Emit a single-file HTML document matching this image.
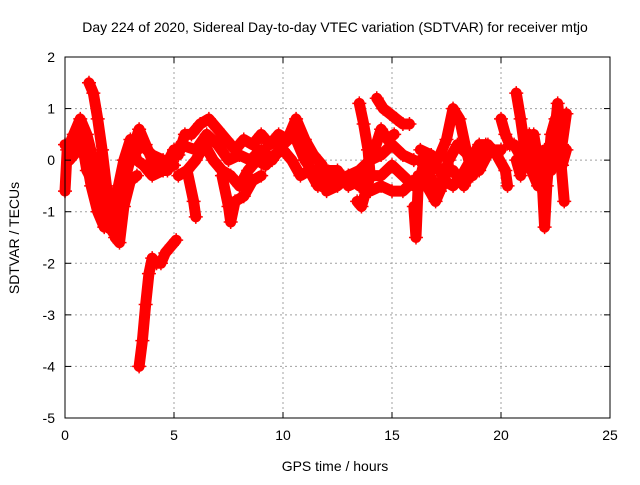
<!DOCTYPE html>
<html><head><meta charset="utf-8"><style>
body{margin:0;background:#fff}
svg text{font-family:"Liberation Sans",sans-serif;font-size:14px;fill:#000}
</style></head><body>
<svg id="chart" width="640" height="480">
<rect width="640" height="480" fill="#fff"/>
<text x="335" y="32" text-anchor="middle">Day 224 of 2020, Sidereal Day-to-day VTEC variation (SDTVAR) for receiver mtjo</text>
<g id="grid"></g>
<g id="series"></g>
<rect x="65" y="57" width="545" height="361" fill="none" stroke="#000" stroke-width="1"/>
<g id="ticks"></g>
<text x="335" y="471" text-anchor="middle">GPS time / hours</text>
<text transform="translate(19,238) rotate(-90)" text-anchor="middle">SDTVAR / TECUs</text>
</svg>
<script>
const xTicks=[0,5,10,15,20,25];
const yTicks=[2,1,0,-1,-2,-3,-4,-5];
const track1=[[0,-0.6],[0.1,0.2],[0.4,0.5],[0.7,0.8],[1.0,0.5],[1.3,0],[1.6,-0.5],[1.9,-1.2],[2.2,-1.4],[2.5,-0.9],[2.8,-0.3],[3.1,0.2],[3.4,0.6],[3.7,0.3],[4.0,0],[4.3,-0.2],[4.7,-0.2],[5.0,0.1]];
const track2=[[0,0.3],[0.3,0.2],[0.6,0.6],[0.9,0.2],[1.2,-0.5],[1.5,-1.0],[1.8,-1.3],[2.1,-1.2],[2.4,-0.6],[2.7,0],[3.0,0.4],[3.3,0],[3.6,-0.1],[4.0,-0.3],[4.5,-0.2],[5.0,0.2]];
const track3=[[1.1,1.5],[1.3,1.3],[1.5,0.8],[1.7,0.2],[1.9,-0.5],[2.1,-1.0],[2.3,-1.5],[2.5,-1.6],[2.7,-0.9],[3.0,-0.4],[3.3,-0.3]];
const track4=[[3.4,-4.0],[3.55,-3.5],[3.7,-2.8],[3.85,-2.2],[4.0,-1.9],[4.2,-2.0],[4.4,-2.0],[4.6,-1.8],[4.9,-1.65],[5.1,-1.55]];
const track5=[[5.2,0.1],[5.5,0.5],[5.8,0.5],[6.2,0.7],[6.6,0.8],[7.0,0.6],[7.4,0.4],[7.8,0.2],[8.2,0.4],[8.6,0.3],[9.0,0.5],[9.4,0.3],[9.8,0.5],[10.2,0.4],[10.6,0.8],[11,0.4],[11.4,0.1],[11.8,-0.1]];
const track6=[[5.2,-0.3],[5.6,-0.2],[6.0,0],[6.4,0.3],[6.8,0],[7.2,-0.2],[7.6,-0.3],[8.0,-0.5],[8.4,-0.2],[8.8,0],[9.2,-0.1],[9.6,0.1],[10.0,0.2],[10.4,0],[10.8,-0.3],[11.2,-0.2],[11.6,-0.5],[12,-0.4]];
const track7=[[5.6,-0.2],[5.9,-0.8],[6.0,-1.1]];
const track8=[[7.2,-0.3],[7.5,-0.9],[7.6,-1.2],[7.8,-0.8],[8.2,-0.7],[8.6,-0.4],[9.0,-0.3]];
const track9=[[11.5,-0.2],[12,-0.3],[12.5,-0.4],[13,-0.3],[13.5,-0.5],[14,-0.6],[14.5,-0.5],[15,-0.6],[15.5,-0.6],[16,-0.4]];
const track10=[[12,-0.6],[12.5,-0.5],[13,-0.3],[13.5,-0.2],[14,0],[14.5,0.1],[15,0.3],[15.5,0.1],[16,0]];
const track11=[[13.5,1.1],[13.7,0.7],[13.9,0.2],[14,-0.3],[13.8,-0.6],[13.6,-0.9],[13.4,-0.8]];
const track12=[[14.3,1.2],[14.6,1.0],[14.9,0.9],[15.2,0.8],[15.5,0.7],[15.8,0.7]];
const track13=[[14.2,0.2],[14.5,0.6],[14.8,0.4],[15.1,0.5]];
const track14=[[16.0,-0.9],[16.1,-1.5],[16.2,-0.5],[16.5,0],[16.8,-0.2],[17.2,0.1],[17.5,0.4],[17.8,1.0],[18.1,0.8],[18.4,0.2],[18.7,-0.3],[19,0],[19.3,0.3]];
const track15=[[16.2,-0.3],[16.6,-0.5],[17,-0.8],[17.4,-0.4],[17.8,-0.5],[18.2,-0.3],[18.6,0],[19,0.3],[19.4,0.3],[19.8,0.1],[20.2,-0.2],[20.3,-0.5]];
const track16=[[16.3,0.2],[16.8,0.1],[17.3,-0.3],[17.8,-0.2],[18.3,-0.5],[18.8,-0.1],[19.3,0.2]];
const track17=[[20.0,0.8],[20.2,0.5],[20.4,0.3]];
const track18=[[20.7,1.3],[20.9,0.8],[21.1,0.2],[21.3,0.1],[21.5,0.5],[21.7,0],[21.9,-0.5],[22.0,-1.3],[22.1,-0.5],[22.3,0.5],[22.5,0.8],[22.7,0.2],[22.9,-0.8]];
const track19=[[20.7,0],[20.9,-0.3],[21.1,0.4],[21.4,-0.2],[21.7,-0.5],[22,0.2],[22.3,-0.2],[22.6,1.1],[22.8,0.3],[23,0.9]];
const track20=[[0.2,0],[0.8,0.3],[1.0,-0.2],[1.5,-0.6],[2.0,-0.9],[2.6,-0.4],[3.0,0],[3.5,0.3],[4.0,0.1],[4.5,0],[5.0,-0.1]];
const track21=[[5.3,0.3],[6,0.2],[6.5,0.5],[7,0.3],[7.5,0],[8,0.1],[8.5,0],[9,0.2],[9.5,0],[10,0.3],[10.5,0.5],[11,0],[11.5,-0.3],[12,-0.5]];
const track22=[[12,-0.2],[12.5,-0.2],[13,-0.5],[13.5,-0.4],[14,-0.3],[14.5,-0.3],[15,-0.1],[15.5,-0.3],[16,-0.5]];
const track23=[[16.3,0],[16.7,-0.3],[17.2,-0.6],[17.6,0],[18,0.3],[18.5,0.1],[19,-0.2],[19.5,0.2],[20,0.2]];
const track24=[[20.6,0.3],[21,0],[21.3,0.5],[21.6,0.2],[21.9,0.1],[22.2,0],[22.5,0.3],[22.8,-0.1],[23,0.2]];
const tracks=[track1,track2,track3,track4,track5,track6,track7,track8,track9,track10,track11,track12,track13,track14,track15,track16,track17,track18,track19,track20,track21,track22,track23,track24];
const X0=65,X1=610,Y0=57,Y1=418;
function sx(t){return X0+(t-0)/(25-0)*(X1-X0);}
function sy(v){return Y1-(v-(-5))/(2-(-5))*(Y1-Y0);}
const NS="http://www.w3.org/2000/svg";
const grid=document.getElementById('grid'),ticks=document.getElementById('ticks'),ser=document.getElementById('series');
function mk(tag,attrs,parent){const e=document.createElementNS(NS,tag);for(const k in attrs)e.setAttribute(k,attrs[k]);parent.appendChild(e);return e;}
xTicks.forEach(t=>{
  const x=sx(t);
  if(t>0&&t<25){const g=mk('line',{x1:x,y1:Y0,x2:x,y2:Y1,stroke:'#a0a0a0','stroke-dasharray':'2,3'},grid);
  
  }
  mk('line',{x1:x,y1:Y1,x2:x,y2:Y1-6,stroke:'#000'},ticks);
  mk('line',{x1:x,y1:Y0,x2:x,y2:Y0+6,stroke:'#000'},ticks);
  const l=mk('text',{x:x,y:Y1+22,'text-anchor':'middle'},ticks);l.textContent=t;
  
  
});
yTicks.forEach(v=>{
  const y=sy(v);
  if(v<2&&v>-5){const g=mk('line',{x1:X0,y1:y,x2:X1,y2:y,stroke:'#a0a0a0','stroke-dasharray':'2,3'},grid);
  
  }
  mk('line',{x1:X0,y1:y,x2:X0+6,y2:y,stroke:'#000'},ticks);
  mk('line',{x1:X1,y1:y,x2:X1-6,y2:y,stroke:'#000'},ticks);
  const l=mk('text',{x:X0-10,y:y+5,'text-anchor':'end'},ticks);l.textContent=v;
  
  
});
tracks.forEach((tr,i)=>{
  const g=mk('g',{},ser);
  
  
  mk('polyline',{points:tr.map(p=>sx(p[0])+','+sy(p[1])).join(' '),fill:'none',stroke:'#f00','stroke-width':11,'stroke-linejoin':'round','stroke-linecap':'round'},g);
  tr.forEach(p=>{
    const x=sx(p[0]),y=sy(p[1]);
    const m=mk('path',{d:`M${x-7},${y}H${x+7}M${x},${y-7}V${y+7}`,stroke:'#f00','stroke-width':1.5},g);
    
    
  });
});
</script>
</body></html>
